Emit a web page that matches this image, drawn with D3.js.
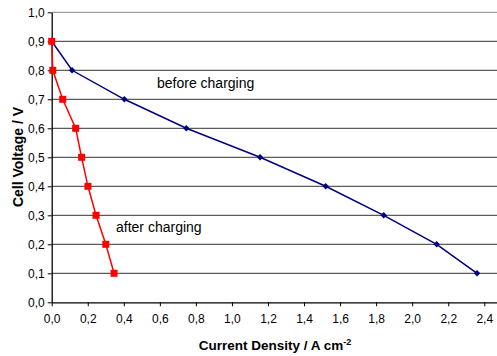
<!DOCTYPE html>
<html><head><meta charset="utf-8">
<script src="https://cdn.jsdelivr.net/npm/d3@7"></script>
<style>body{margin:0;background:#fff}svg{display:block}</style>
</head><body>
<script>
const beforeX = [0, 0.113, 0.403, 0.747, 1.156, 1.52, 1.842, 2.136, 2.36];
const beforeV = [0.9, 0.8, 0.7, 0.6, 0.5, 0.4, 0.3, 0.2, 0.1];
const afterX = [0, 0.006, 0.061, 0.133, 0.166, 0.201, 0.246, 0.3, 0.346];
const afterV = [0.9, 0.8, 0.7, 0.6, 0.5, 0.4, 0.3, 0.2, 0.1];
const xTicks = [0, 0.2, 0.4, 0.6, 0.8, 1.0, 1.2, 1.4, 1.6, 1.8, 2.0, 2.2, 2.4];
const yTicks = [0, 0.1, 0.2, 0.3, 0.4, 0.5, 0.6, 0.7, 0.8, 0.9, 1.0];
const labels = {before: "before charging", after: "after charging"};

const W = 497, H = 356;
const svg = d3.select("body").append("svg").attr("width", W).attr("height", H);
const x = d3.scaleLinear().domain([0, 2.5]).range([51.7, 502.3]);
const y = d3.scaleLinear().domain([0, 1]).range([302.3, 12.3]);
const fmt = d => d3.format(".1f")(d).replace(".", ",");
const font = "Liberation Sans, Arial, sans-serif";

// gridlines
svg.append("g").selectAll("line").data(yTicks.filter(d => d > 0)).join("line")
  .attr("x1", x(0)).attr("x2", W).attr("y1", d => y(d)).attr("y2", d => y(d))
  .attr("stroke", d => d === 1 ? "#888" : "#333").attr("stroke-width", 1);

// axes
const yAxis = svg.append("g").attr("transform", `translate(${x(0)},0)`)
  .call(d3.axisLeft(y).tickValues(yTicks).tickFormat(fmt).tickSize(4).tickSizeOuter(0));
const xAxis = svg.append("g").attr("transform", `translate(0,${y(0)})`)
  .call(d3.axisBottom(x).tickValues(xTicks).tickFormat(fmt).tickSize(4).tickSizeOuter(0));
[yAxis, xAxis].forEach(a => {
  a.select(".domain").attr("stroke", "#000").attr("stroke-width", 1.3);
  a.selectAll(".tick line").attr("stroke", "#000");
  a.selectAll("text").attr("font-family", font).attr("font-size", 12).attr("fill", "#000");
});
yAxis.selectAll("text").attr("x", -7);
xAxis.selectAll("text").attr("y", 12);
xAxis.select(".domain").attr("d", `M${x(0)},0.5H${W}`);

const line = d3.line().x(d => x(d[0])).y(d => y(d[1]));
const before = beforeX.map((v, i) => [v, beforeV[i]]);
const after = afterX.map((v, i) => [v, afterV[i]]);

svg.append("path").datum(before).attr("d", line).attr("fill", "none").attr("stroke", "#000080").attr("stroke-width", 1.5);
svg.append("g").selectAll("path").data(before).join("path")
  .attr("d", d3.symbol(d3.symbolDiamond2, 26)())
  .attr("transform", d => `translate(${x(d[0])},${y(d[1])})`).attr("fill", "#000080");

svg.append("path").datum(after).attr("d", line).attr("fill", "none").attr("stroke", "#ff0000").attr("stroke-width", 1.5);
svg.append("g").selectAll("rect").data(after).join("rect")
  .attr("x", d => x(d[0]) - 3.5).attr("y", d => y(d[1]) - 3.5).attr("width", 7).attr("height", 7)
  .attr("fill", "#ff0000");

svg.append("text").attr("x", 157).attr("y", 88).attr("font-family", font).attr("font-size", 14).text(labels.before);
svg.append("text").attr("x", 116).attr("y", 232).attr("font-family", font).attr("font-size", 14).text(labels.after);

svg.append("text").attr("transform", `translate(23,157) rotate(-90)`).attr("text-anchor", "middle")
  .attr("font-family", font).attr("font-size", 14).attr("font-weight", "bold").text("Cell Voltage / V");
const xt = svg.append("text").attr("x", 275).attr("y", 350).attr("text-anchor", "middle")
  .attr("font-family", font).attr("font-size", 13.5).attr("font-weight", "bold");
xt.append("tspan").text("Current Density / A cm");
xt.append("tspan").attr("dy", -5).attr("font-size", 9).text("-2");
</script>
</body></html>
